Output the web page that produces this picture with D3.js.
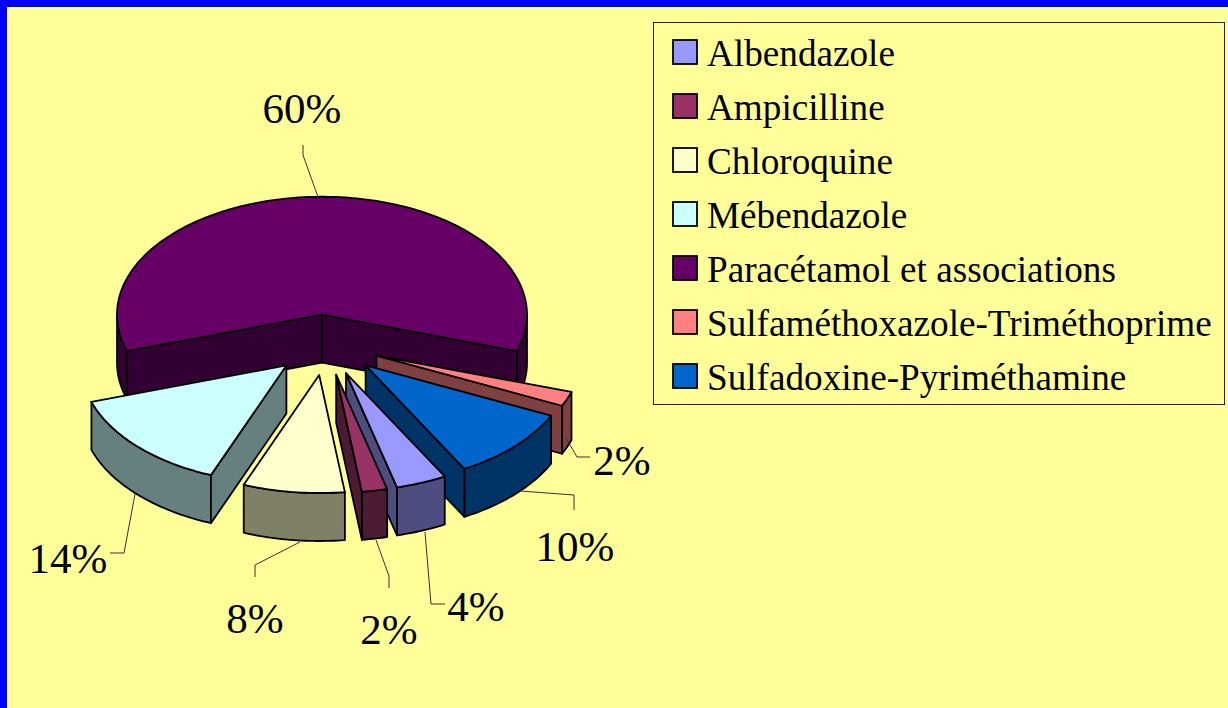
<!DOCTYPE html>
<html><head><meta charset="utf-8">
<script src="https://cdn.jsdelivr.net/npm/d3@7"></script>
<style>html,body{margin:0;padding:0;background:#FFFF99;overflow:hidden}svg{display:block}text{font-family:"Liberation Serif",serif;fill:#000}</style>
</head><body><svg id="c" width="1228" height="708"></svg>
<script>
// Data (clockwise from the top, drawing order of the pie)
const pieCategories=["Paracétamol et associations","Sulfaméthoxazole-Triméthoprime","Sulfadoxine-Pyriméthamine","Albendazole","Ampicilline","Chloroquine","Mébendazole"];
const pieValues=[60,2,10,4,2,8,14];
const pieLabels=["60%","2%","10%","4%","2%","8%","14%"];
const topColors=["#660066","#FF8080","#0066CC","#9999FF","#993366","#FFFFCC","#CCFFFF"];
const legendOrder=["Albendazole","Ampicilline","Chloroquine","Mébendazole","Paracétamol et associations","Sulfaméthoxazole-Triméthoprime","Sulfadoxine-Pyriméthamine"];

// Layout (pixels)
const W=1228,H=708;
const cx=322,cy=345,rx=205,ry=118,depth=48,explode=0.265;
const labelPos=[[302,123],[622,475],[575,561],[476,621],[389,644],[255,633],[68,573]];
const leaderPath=[[[303,145],[303,155],[318,197]],[[566,438],[577,457],[590,457]],[[520,491],[574,495],[574,510]],
  [[425,532],[431,604],[445,604]],[[376,540],[389,576],[389,588]],[[300,542],[255,565],[255,577]],[[135,494],[124,553],[110,553]]];
const drawOrder=[0,1,2,6,5,3,4];
const nudgeX=[0,4,4,4,4,4,4],nudgeY=[1,-1,-1,-1,-1,-1,-1];

const svg=d3.select("#c");
svg.append("rect").attr("width",W).attr("height",H).attr("fill","#FFFF99");
svg.append("rect").attr("width",W).attr("height",7).attr("fill","#0000FF");
svg.append("rect").attr("width",7).attr("height",H).attr("fill","#0000FF");

const arcs=d3.pie().sort(null).startAngle(-0.6*Math.PI).endAngle(1.4*Math.PI)(pieValues);
const sx=d3.scaleLinear().domain([-1,1]).range([cx-rx,cx+rx]);
const sy=d3.scaleLinear().domain([-1,1]).range([cy+ry,cy-ry]); // y value +1 = top of the picture
const line=d3.line();
const darker=c=>{const k=d3.rgb(c);return d3.rgb(k.r/2,k.g/2,k.b/2).formatHex();};

function geom(a,i){
  const mid=(a.startAngle+a.endAngle)/2;
  const ox=explode*Math.sin(mid),oy=explode*Math.cos(mid);
  const pt=(t,r=1)=>[sx(ox+r*Math.sin(t))+nudgeX[i],sy(oy+r*Math.cos(t))+nudgeY[i]];
  return {pt,apex:pt(0,0)};
}
function down(p){return [p[0],p[1]+depth];}
function arcPts(g,a0,a1){
  const n=Math.max(2,Math.ceil((a1-a0)/0.02));
  return d3.range(n+1).map(i=>g.pt(a0+(a1-a0)*i/n));
}
const root=svg.append("g");

drawOrder.forEach(i=>{
  const a=arcs[i],g=geom(a,i),wall=darker(topColors[i]);
  const G=root.append("g").attr("stroke","#000").attr("stroke-width",1.8).attr("stroke-linejoin","round");
  const face=(pts,fill)=>G.append("path").attr("d",line(pts)+"Z").attr("fill",fill);
  const start=g.pt(a.startAngle),end=g.pt(a.endAngle);
  const s=Math.max(a.startAngle,Math.PI/2),e=Math.min(a.endAngle,1.5*Math.PI);
  if(e>s){const p=arcPts(g,s,e);face(p.concat(p.slice().reverse().map(down)),wall);}
  if(a.startAngle<-Math.PI/2){const p=arcPts(g,a.startAngle,-Math.PI/2);face(p.concat(p.slice().reverse().map(down)),wall);}
  if(start[0]<g.apex[0]) face([g.apex,start,down(start),down(g.apex)],wall);
  if(end[0]>g.apex[0]) face([g.apex,end,down(end),down(g.apex)],wall);
  face([g.apex].concat(arcPts(g,a.startAngle,a.endAngle)),topColors[i]);
});

// leaders and value labels
const lab=svg.append("g");
pieLabels.forEach((t,i)=>{
  lab.append("path").attr("d",line(leaderPath[i])).attr("fill","none").attr("stroke","#333").attr("stroke-width",1);
  lab.append("text").attr("x",labelPos[i][0]).attr("y",labelPos[i][1]).attr("text-anchor","middle").attr("font-size",43).text(t);
});

// legend
const lx=653.5,ly=22.5,lw=571,lh=382;
const leg=svg.append("g");
leg.append("rect").attr("x",lx).attr("y",ly).attr("width",lw).attr("height",lh).attr("fill","none").attr("stroke","#222").attr("stroke-width",1);
const ry2=d3.scalePoint().domain(legendOrder).range([53,377]);
legendOrder.forEach(n=>{
  const y=ry2(n),col=topColors[pieCategories.indexOf(n)];
  leg.append("rect").attr("x",673).attr("y",y-13).attr("width",24).attr("height",24).attr("fill",col).attr("stroke","#000").attr("stroke-width",1.8);
  leg.append("text").attr("x",707).attr("y",y+13).attr("font-size",37.2).text(n);
});
</script></body></html>
